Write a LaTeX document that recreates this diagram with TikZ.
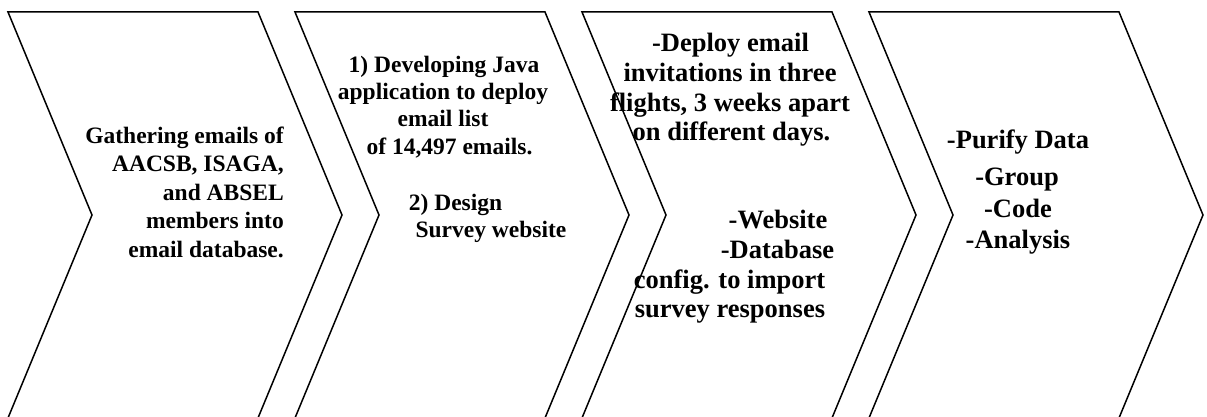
\documentclass[tikz,border=0pt]{standalone}
\usepackage{fontspec}
\setmainfont{Liberation Serif}
\begin{document}
\begin{tikzpicture}[x=1pt,y=-1pt,
  chev/.style={draw=black, line width=1.5pt, line join=miter},
  txt/.style={inner sep=0pt, font=\bfseries\fontsize{23.5}{28}\selectfont},
  txtbig/.style={inner sep=0pt, font=\bfseries\fontsize{26.5}{30}\selectfont}]
  % page frame
  \fill[white] (0,0) rectangle (1207,417);
  \useasboundingbox (0,0) rectangle (1207,417);

  % four chevron stages, 287 units apart
  \foreach \xa in {8,295,582,869}{
    \draw[chev] (\xa,12) -- ++(250,0) -- ++(84,203) -- ++(-84,203)
      -- ++(-250,0) -- ++(84,-203) -- cycle;
  }

  % stage 1
  \node[txt, anchor=base east] (s1a) at (284,143) {Gathering emails of};
  \node[txt, anchor=base east] (s1b) at (284,171.5) {AACSB, ISAGA,};
  \node[txt, anchor=base east] (s1c) at (284,200) {and ABSEL};
  \node[txt, anchor=base east] (s1d) at (284,228.5) {members into};
  \node[txt, anchor=base east] (s1e) at (284,257) {email database.};

  % stage 2
  \node[txt, anchor=base] (s2a) at (444,73) {1) Developing Java};
  \node[txt, anchor=base] (s2b) at (443,100) {application to deploy};
  \node[txt, anchor=base] (s2c) at (443,127) {email list};
  \node[txt, anchor=base] (s2d) at (449.5,154) {of 14,497 emails.};
  \node[txt, anchor=base] (s2e) at (455.5,210) {2) Design};
  \node[txt, anchor=base] (s2f) at (491,237) {Survey website};

  % stage 3
  \node[txtbig, anchor=base] (s3a) at (730.5,52) {-Deploy email};
  \node[txtbig, anchor=base] (s3b) at (730,82) {invitations in three};
  \node[txtbig, anchor=base] (s3c) at (730,112) {flights, 3 weeks apart};
  \node[txtbig, anchor=base] (s3d) at (731.5,141) {on different days.};
  \node[txtbig, anchor=base] (s3e) at (778,228) {-Website};
  \node[txtbig, anchor=base] (s3f) at (777.5,258) {-Database};
  \node[txtbig, anchor=base] (s3g) at (729.5,288) {config. to import};
  \node[txtbig, anchor=base] (s3h) at (730,317) {survey responses};

  % stage 4
  \node[txtbig, anchor=base] (s4a) at (1018,148) {-Purify Data};
  \node[txtbig, anchor=base] (s4b) at (1017,185) {-Group};
  \node[txtbig, anchor=base] (s4c) at (1018,217) {-Code};
  \node[txtbig, anchor=base] (s4d) at (1018,248) {-Analysis};
\end{tikzpicture}
\end{document}
